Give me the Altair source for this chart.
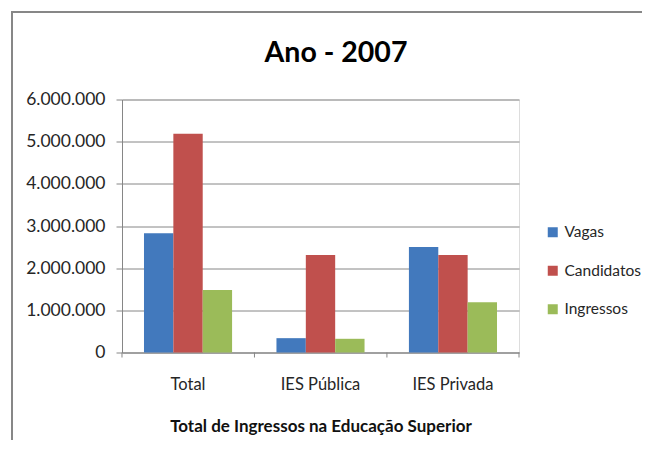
import altair as alt
import pandas as pd

# ---- data ----
categories = ["Total", "IES Pública", "IES Privada"]
series = ["Vagas", "Candidatos", "Ingressos"]
vagas = [2830000, 340000, 2500000]
candidatos = [5190000, 2310000, 2310000]
ingressos = [1480000, 325000, 1190000]
y_ticks = [0, 1000000, 2000000, 3000000, 4000000, 5000000, 6000000]
colors = ["#4279BD", "#C0504D", "#9BBB59"]
chart_title = "Ano - 2007"
x_title = "Total de Ingressos na Educação Superior"

rows = []
for s, vals in zip(series, [vagas, candidatos, ingressos]):
    for c, v in zip(categories, vals):
        rows.append({"cat": c, "serie": s, "valor": v})
df = pd.DataFrame(rows)

W, H = 397, 253
LABEL_FONT = "Lato"
GRAY = "#868686"
TEXT = "#262626"

xscale = alt.Scale(domain=categories, paddingInner=0.335, paddingOuter=0.166)

bars = alt.Chart(df).mark_bar().encode(
    x=alt.X("cat:N", scale=xscale, sort=categories,
            axis=alt.Axis(title=x_title, labelAngle=0, ticks=False,
                          labelPadding=24, labelFont=LABEL_FONT, labelFontSize=16.5,
                          labelColor=TEXT, domainColor=GRAY, domainWidth=1,
                          titleFont=LABEL_FONT, titleFontSize=17, titleFontWeight="bold",
                          titleColor="#111111", titleBaseline="alphabetic", titleY=79)),
    xOffset=alt.XOffset("serie:N", sort=series, scale=alt.Scale(domain=series, paddingInner=0, paddingOuter=0)),
    y=alt.Y("valor:Q", scale=alt.Scale(domain=[0, 6000000], nice=False),
            axis=alt.Axis(title=None, values=y_ticks, grid=True, gridColor=GRAY, gridWidth=1,
                          domainColor=GRAY, tickColor=GRAY, tickSize=6, labelPadding=11,
                          labelFont=LABEL_FONT, labelFontSize=17.5, labelColor=TEXT,
                          labelExpr="replace(format(datum.value, ','), /,/g, '.')")),
    color=alt.Color("serie:N", sort=series, scale=alt.Scale(domain=series, range=colors),
                    legend=alt.Legend(title=None, orient="none", legendX=423, legendY=125,
                                      symbolType="square", symbolSize=100, symbolStrokeWidth=0,
                                      labelFont=LABEL_FONT, labelFontSize=15.5, labelColor=TEXT,
                                      labelOffset=4, rowPadding=21.5, padding=0)),
)

tick_df = pd.DataFrame({"cat": categories})
xticks = alt.Chart(tick_df).mark_rule(color=GRAY, strokeWidth=1, xOffset=-22).encode(
    x=alt.X("cat:N", scale=xscale, sort=categories, bandPosition=0),
    y=alt.value(H), y2=alt.value(H + 5),
)
last_tick = alt.Chart(tick_df.head(1)).mark_rule(color=GRAY, strokeWidth=1).encode(
    x=alt.value(W), y=alt.value(H), y2=alt.value(H + 5),
)

title_mark = alt.Chart(pd.DataFrame({"t": [chart_title]})).mark_text(
    font="Lato", fontSize=28.5, fontWeight="bold",
    color="#000000", align="center", baseline="alphabetic"
).encode(text="t:N", x=alt.value(214), y=alt.value(-37.5))

frame = alt.Chart(pd.DataFrame({"t": [0]})).mark_rect(
    fillOpacity=0, stroke="#878787", strokeWidth=2
).encode(x=alt.value(-110), x2=alt.value(800), y=alt.value(-87.5), y2=alt.value(600))

chart = alt.layer(frame, bars, xticks, last_tick, title_mark).properties(
    width=W, height=H,
    autosize=alt.AutoSizeParams(type="none"),
    padding={"left": 114, "top": 91.5, "right": 123, "bottom": 87.5},
).configure_view(stroke=None).configure(background="white")

chart.save("out.html", embed_options={"renderer": "svg", "actions": False})
